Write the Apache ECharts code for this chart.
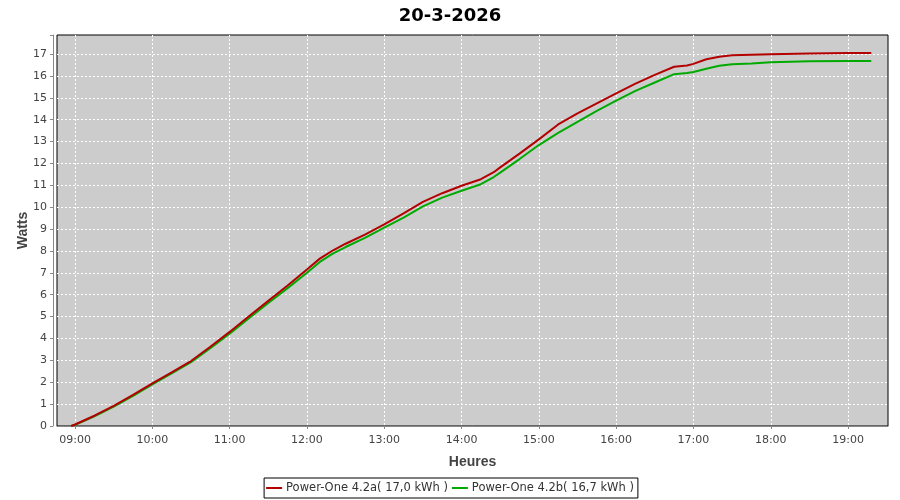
<!DOCTYPE html>
<html><head><meta charset="utf-8">
<script src="https://cdn.jsdelivr.net/npm/echarts@6/dist/echarts.min.js"></script>
<style>html,body{margin:0;padding:0;background:#fff}#c{width:900px;height:500px}</style>
</head><body><div id="c"></div>
<script>
const title = '20-3-2026';
const times = ['08:57','09:00','09:15','09:30','09:45','10:00','10:15','10:30','10:45','11:00','11:15','11:30','11:45','12:00','12:10','12:20','12:30','12:45','13:00','13:15','13:30','13:45','14:00','14:15','14:25','14:30','14:45','15:00','15:15','15:30','15:45','16:00','16:15','16:30','16:45','16:55','17:00','17:10','17:20','17:30','17:45','18:00','18:30','19:00','19:18'];
const redValues = [0.00,0.07,0.47,0.92,1.42,1.95,2.45,2.97,3.62,4.30,5.02,5.72,6.42,7.15,7.65,8.02,8.33,8.75,9.22,9.72,10.24,10.64,10.98,11.28,11.60,11.82,12.45,13.10,13.78,14.29,14.75,15.20,15.65,16.05,16.42,16.48,16.55,16.76,16.88,16.94,16.97,16.99,17.03,17.05,17.05];
const greenValues = [0.00,0.05,0.44,0.89,1.38,1.90,2.40,2.92,3.56,4.22,4.93,5.62,6.30,7.00,7.50,7.88,8.18,8.60,9.07,9.52,10.04,10.44,10.75,11.05,11.38,11.58,12.20,12.84,13.40,13.90,14.40,14.87,15.32,15.70,16.08,16.13,16.18,16.33,16.46,16.53,16.57,16.62,16.67,16.68,16.68];
const seriesNames = ['Power-One 4.2a( 17,0 kWh )','Power-One 4.2b( 16,7 kWh )'];
const axisRange = ['08:46','19:31'];
const yMax = 17.87;

function toMs(t){const [h,m]=t.split(':').map(Number);return Date.UTC(2026,2,20,h,m);}
const redData = times.map((t,i)=>[toMs(t),redValues[i]]);
const greenData = times.map((t,i)=>[toMs(t),greenValues[i]]);
const font = 'DejaVu Sans';
const nameFont = 'Liberation Sans';
const chart = echarts.init(document.getElementById('c'));
chart.setOption({
  useUTC: true,
  animation: false,
  backgroundColor: '#fff',
  title: {text: title, left: 'center', top: 2, textStyle:{fontFamily:font,fontSize:18,fontWeight:'bold',color:'#000'}},
  grid: {left:57, right:12, top:35, bottom:74, show:true, backgroundColor:'#cccccc', borderColor:'#000', borderWidth:1},
  xAxis: {
    type:'time', min: toMs(axisRange[0]), max: toMs(axisRange[1]),
    minInterval:3600000, maxInterval:3600000, offset:4,
    name:'Heures', nameLocation:'middle', nameGap:25,
    nameTextStyle:{fontFamily:nameFont,fontSize:14,fontWeight:'bold',color:'#444'},
    axisLine:{show:true,lineStyle:{color:'#888',width:1}},
    axisTick:{show:true,length:3,lineStyle:{color:'#888'}},
    axisLabel:{formatter:'{HH}:{mm}',fontFamily:font,fontSize:11,color:'#444',margin:5,showMinLabel:false,showMaxLabel:false},
    splitLine:{show:true,showMinLine:false,showMaxLine:false,lineStyle:{color:'#fff',type:[2,2],width:1}},
    minorTick:{show:false}
  },
  yAxis: {
    type:'value', min:0, max:yMax, interval:1, offset:4,
    name:'Watts', nameLocation:'middle', nameGap:23, nameMoveOverlap:false,
    nameTextStyle:{fontFamily:nameFont,fontSize:14,fontWeight:'bold',color:'#444'},
    axisLine:{show:true,lineStyle:{color:'#888',width:1}},
    axisTick:{show:true,length:3,lineStyle:{color:'#888'}},
    axisLabel:{fontFamily:font,fontSize:11,color:'#444',margin:6,
      formatter:v=>Number.isInteger(v)?String(v):''},
    splitLine:{show:true,showMinLine:false,showMaxLine:false,lineStyle:{color:'#fff',type:[2,2],width:1}}
  },
  legend: {
    bottom:2, left:'center', data:seriesNames, icon:'rect', itemWidth:16, itemHeight:2, itemGap:4,
    borderColor:'#000', borderWidth:1, padding:[4,4,4,2],
    textStyle:{fontFamily:font,fontSize:11.5,color:'#333',padding:[0,0,0,-1]}
  },
  series: [
    {name:seriesNames[0], type:'line', data:redData, showSymbol:false, lineStyle:{color:'#b40000',width:2}, itemStyle:{color:'#b40000'}, z:3},
    {name:seriesNames[1], type:'line', data:greenData, showSymbol:false, lineStyle:{color:'#00aa00',width:2}, itemStyle:{color:'#00aa00'}, z:2}
  ]
});
</script></body></html>
